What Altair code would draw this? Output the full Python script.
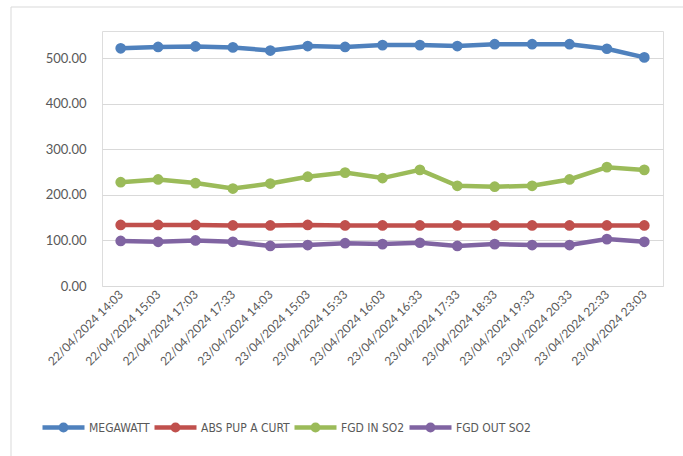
import altair as alt
import pandas as pd

times = ["22/04/2024 14:03", "22/04/2024 15:03", "22/04/2024 17:03", "22/04/2024 17:33",
         "23/04/2024 14:03", "23/04/2024 15:03", "23/04/2024 15:33", "23/04/2024 16:03",
         "23/04/2024 16:33", "23/04/2024 17:33", "23/04/2024 18:33", "23/04/2024 19:33",
         "23/04/2024 20:33", "23/04/2024 22:33", "23/04/2024 23:03"]
megawatt = [522, 525, 526, 524, 517, 527, 525, 529, 529, 527, 531, 531, 531, 521, 502]
abs_pup = [134, 134, 134, 133, 133, 134, 133, 133, 133, 133, 133, 133, 133, 133, 133]
fgd_in = [228, 234, 226, 214, 225, 240, 249, 237, 255, 220, 218, 220, 234, 261, 255]
fgd_out = [99, 97, 100, 97, 88, 90, 94, 92, 95, 88, 92, 90, 90, 103, 97]

series = ["MEGAWATT", "ABS PUP A CURT", "FGD IN SO2", "FGD OUT SO2"]
colors = ["#4F81BD", "#C0504D", "#9BBB59", "#8064A2"]

rows = []
for name, vals in zip(series, [megawatt, abs_pup, fgd_in, fgd_out]):
    for t, v in zip(times, vals):
        rows.append({"time": t, "series": name, "value": v})
df = pd.DataFrame(rows)

FONT = "Lato"
LFONT = "DejaVu Sans Condensed, Lato"
sym = "M-1,0L1,0M-0.13,0A0.13,0.13 0 1,0 0.13,0A0.13,0.13 0 1,0 -0.13,0Z"

base = alt.Chart(df).encode(
    x=alt.X("time:O", sort=times, title=None,
            axis=alt.Axis(labelAngle=-45, labelAlign="right", labelBaseline="middle",
                          labelPadding=6, ticks=False, domain=False, grid=False,
                          labelFont=FONT, labelFontSize=12, labelColor="#595959")),
    y=alt.Y("value:Q", title=None,
            scale=alt.Scale(domain=[0, 560], nice=False),
            axis=alt.Axis(values=[0, 100, 200, 300, 400, 500], format=".2f",
                          ticks=False, domain=False, gridColor="#D9D9D9", gridWidth=1.2,
                          labelPadding=16, labelFont=FONT, labelFontSize=13,
                          labelColor="#595959")),
    color=alt.Color("series:N", sort=series,
                    scale=alt.Scale(domain=series, range=colors),
                    legend=alt.Legend(title=None, orient="none", direction="horizontal",
                                      legendX=-62, legendY=373,
                                      symbolType=sym, symbolSize=1764,
                                      symbolStrokeWidth=4.5,
                                      labelFont=LFONT, labelFontSize=12,
                                      labelColor="#595959", labelOffset=2,
                                      columnPadding=-5, columns=4, gridAlign="none")),
)

lines = base.mark_line(strokeWidth=4.5)
points = base.mark_point(filled=True, size=115, opacity=1)

frame_top = alt.Chart(pd.DataFrame({"a": [0]})).mark_rule(color="#D9D9D9", strokeWidth=1).encode(
    x=alt.value(-91), x2=alt.value(590), y=alt.value(-24))
frame_left = alt.Chart(pd.DataFrame({"a": [0]})).mark_rule(color="#D9D9D9", strokeWidth=1).encode(
    x=alt.value(-91), y=alt.value(-24), y2=alt.value(440))

chart = alt.layer(frame_top, frame_left, lines, points).properties(
    width=561, height=255,
    autosize=alt.AutoSizeParams(type="none"),
    padding={"left": 102, "top": 31, "right": 20, "bottom": 170},
).configure_view(stroke=None).configure(background="white")

chart.save("out.html", embed_options={"renderer": "svg", "actions": False})
